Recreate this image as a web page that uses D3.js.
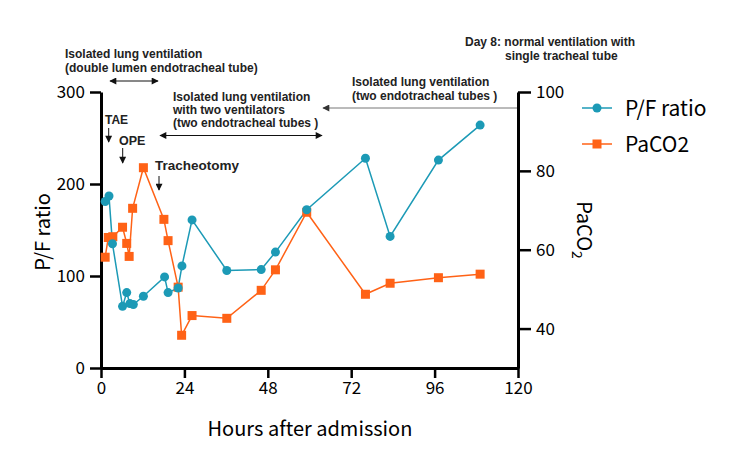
<!DOCTYPE html>
<html lang="en">
<head>
<meta charset="UTF-8">
<title>P/F ratio and PaCO2</title>
<script src="https://d3js.org/d3.v7.min.js"></script>
<style>
  body { margin: 0; background: #fff; }
  .tick text { font-family: "Noto Sans CJK JP", "Noto Sans", sans-serif; font-size: 17px; fill: #000; }
  .note { font-family: "Liberation Sans", Arial, sans-serif; font-weight: bold; font-size: 12px; fill: #222; }
</style>
</head>
<body>
<svg id="chart" width="750" height="454"></svg>
<script>
// data
const hoursPF = [1.2, 2.3, 3.3, 6.2, 7.4, 8.3, 9.3, 12.2, 18.3, 19.3, 22.2, 23.3, 26.2, 36.2, 46.1, 50.2, 59.2, 76.1, 83.2, 97.1, 109.1];
const pfRatio = [181, 187, 135, 67, 82, 70, 69, 78, 99, 82, 87, 111, 161, 106, 107, 126, 172, 228, 143, 226, 264];
const hoursCO2 = [1.2, 2.1, 3.4, 6.2, 7.4, 8.1, 9.1, 12.2, 18.1, 19.3, 22.2, 23.2, 26.2, 36.2, 46.1, 50.2, 59.2, 76.1, 83.2, 97.1, 109.1];
const paco2 = [58.1, 63.1, 63.3, 65.7, 61.6, 58.3, 70.5, 80.8, 67.7, 62.3, 50.5, 38.3, 43.3, 42.6, 49.7, 54.9, 69.5, 48.7, 51.5, 52.9, 53.8];

const xTicks = [0, 24, 48, 72, 96, 120];
const leftTicks = [0, 100, 200, 300];
const rightTicks = [40, 60, 80, 100];

const blue = "#1c9ab6";
const orange = "#ff6216";

const svg = d3.select("#chart");

const x = d3.scaleLinear().domain([0, 120]).range([101, 518]);
const yL = d3.scaleLinear().domain([0, 300]).range([368, 92]);
const yR = d3.scaleLinear().domain([30, 100]).range([368, 92]);

// arrow heads
const defs = svg.append("defs");
function marker(id, color) {
  defs.append("marker")
    .attr("id", id)
    .attr("viewBox", "0 0 10 10")
    .attr("refX", 9).attr("refY", 5)
    .attr("markerWidth", 9).attr("markerHeight", 7)
    .attr("markerUnits", "userSpaceOnUse")
    .attr("orient", "auto-start-reverse")
    .append("path")
    .attr("d", "M0,0L10,5L0,10z")
    .attr("fill", color);
}
marker("ah", "#111");
marker("ahg", "#333");

// axes
function styleAxis(g) {
  g.select(".domain").attr("stroke", "#000").attr("stroke-width", 3);
  g.selectAll(".tick line").attr("stroke", "#000").attr("stroke-width", 2.5);
}

svg.append("g")
  .attr("transform", "translate(101,0)")
  .call(d3.axisLeft(yL).tickValues(leftTicks).tickSize(11).tickSizeOuter(0).tickPadding(5))
  .call(styleAxis);

svg.append("g")
  .attr("transform", "translate(518,0)")
  .call(d3.axisRight(yR).tickValues(rightTicks).tickSize(13).tickSizeOuter(0).tickPadding(5))
  .call(styleAxis);

svg.append("g")
  .attr("transform", "translate(0,368)")
  .call(d3.axisBottom(x).tickValues(xTicks).tickSize(10).tickSizeOuter(0).tickPadding(4))
  .call(styleAxis);

// axis titles
svg.append("text")
  .attr("transform", "translate(50,232) rotate(-90)")
  .attr("text-anchor", "middle")
  .style("font-family", '"Noto Sans CJK JP", sans-serif')
  .style("font-size", "20px")
  .text("P/F ratio");

const rt = svg.append("text")
  .attr("transform", "translate(577,230) rotate(90)")
  .attr("text-anchor", "middle")
  .style("font-family", '"Noto Sans CJK JP", sans-serif')
  .style("font-size", "20px");
rt.append("tspan").text("PaCO");
rt.append("tspan").attr("dy", 5).style("font-size", "14px").text("2");

svg.append("text")
  .attr("x", 310).attr("y", 436)
  .attr("text-anchor", "middle")
  .style("font-family", '"Noto Sans CJK JP", sans-serif')
  .style("font-size", "20px")
  .text("Hours after admission");

// series
const pfData = hoursPF.map((h, i) => ({ h, v: pfRatio[i] }));
const co2Data = hoursCO2.map((h, i) => ({ h, v: paco2[i] }));

svg.append("path")
  .datum(co2Data)
  .attr("fill", "none")
  .attr("stroke", orange)
  .attr("stroke-width", 1.5)
  .attr("d", d3.line().x(d => x(d.h)).y(d => yR(d.v)));

svg.append("path")
  .datum(pfData)
  .attr("fill", "none")
  .attr("stroke", blue)
  .attr("stroke-width", 1.5)
  .attr("d", d3.line().x(d => x(d.h)).y(d => yL(d.v)));

svg.selectAll(".sq")
  .data(co2Data)
  .enter().append("rect")
  .attr("x", d => x(d.h) - 4.5)
  .attr("y", d => yR(d.v) - 4.5)
  .attr("width", 9).attr("height", 9)
  .attr("fill", orange);

svg.selectAll(".dot")
  .data(pfData)
  .enter().append("circle")
  .attr("cx", d => x(d.h))
  .attr("cy", d => yL(d.v))
  .attr("r", 4.5)
  .attr("fill", blue);

// legend
const legend = [
  { label: "P/F ratio", color: blue, shape: "circle", y: 108 },
  { label: "PaCO2", color: orange, shape: "square", y: 144 }
];
legend.forEach(l => {
  svg.append("line")
    .attr("x1", 582).attr("x2", 612)
    .attr("y1", l.y).attr("y2", l.y)
    .attr("stroke", l.color).attr("stroke-width", 1.5);
  if (l.shape === "circle") {
    svg.append("circle").attr("cx", 597).attr("cy", l.y).attr("r", 4.5).attr("fill", l.color);
  } else {
    svg.append("rect").attr("x", 592.5).attr("y", l.y - 4.5).attr("width", 9).attr("height", 9).attr("fill", l.color);
  }
  svg.append("text")
    .attr("x", 625).attr("y", l.y + 8)
    .style("font-family", '"Noto Sans CJK JP", sans-serif')
    .style("font-size", "21px")
    .text(l.label);
});

// annotations
function note(xp, yp, lines, size, step) {
  const t = svg.append("text").attr("class", "note").style("font-size", (size || 12) + "px");
  lines.forEach((s, i) => {
    t.append("tspan").attr("x", Array.isArray(xp) ? xp[i] : xp).attr("y", yp + i * (step || 14)).text(s);
  });
}
function arrow(x1, y1, x2, y2, both, color, id) {
  svg.append("line")
    .attr("x1", x1).attr("y1", y1).attr("x2", x2).attr("y2", y2)
    .attr("stroke", color || "#111").attr("stroke-width", 1)
    .attr("marker-end", `url(#${id || "ah"})`)
    .attr("marker-start", both ? `url(#${id || "ah"})` : null);
}

note(65, 58, ["Isolated lung ventilation", "(double lumen endotracheal tube)"], 12, 14);
arrow(110, 81, 158, 81, true);

note(173, 101, ["Isolated lung ventilation", "with two ventilators", "(two endotracheal tubes )"], 12, 13);
arrow(160, 135.5, 322, 135.5, true);

note(352, 86, ["Isolated lung ventilation", "(two endotracheal tubes )"], 12, 13.5);
arrow(517, 108, 323, 108, false, "#777", "ahg");

note([465, 505], 46, ["Day 8: normal ventilation with", "single tracheal tube"], 12, 14);

note(105, 124, ["TAE"], 12);
arrow(108.7, 128, 108.7, 142);
note(119, 144.5, ["OPE"], 12.5);
arrow(122.7, 148, 122.7, 163);
note(155, 170, ["Tracheotomy"], 13.5);
arrow(159, 176, 159, 190);
</script>
</body>
</html>
